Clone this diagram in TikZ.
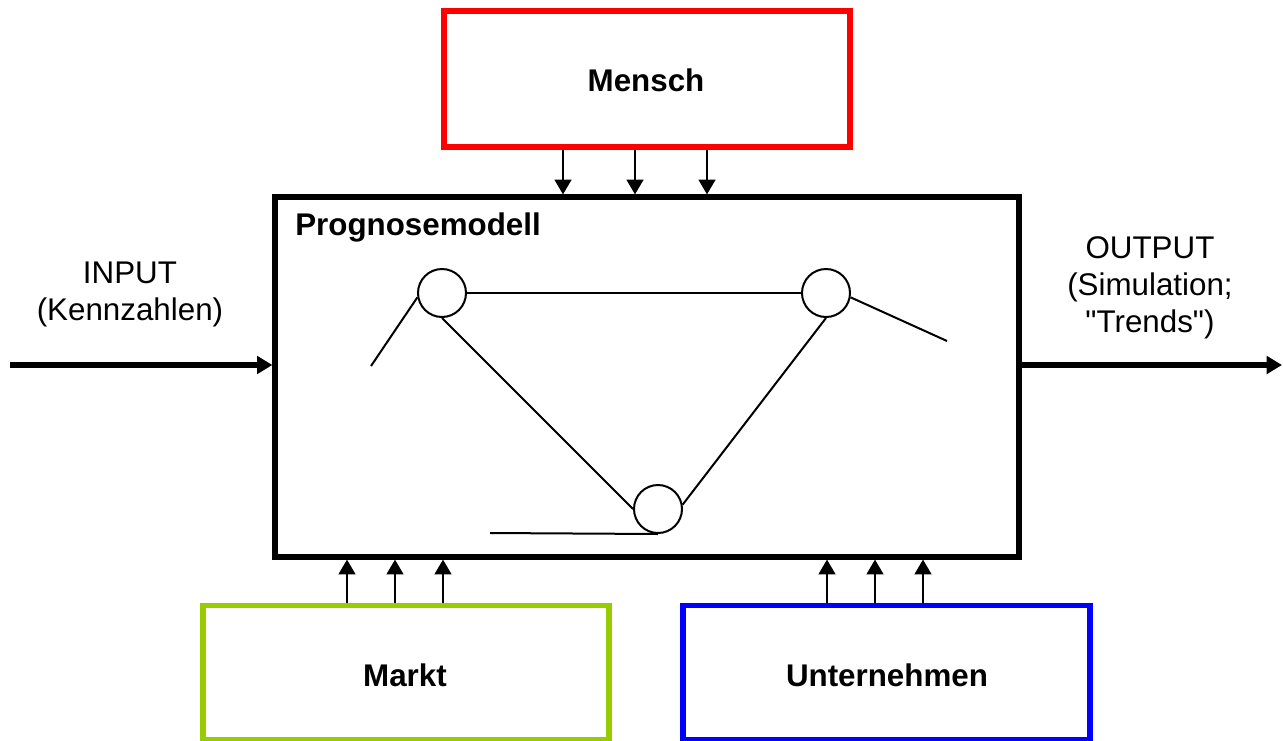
\documentclass[tikz,border=0pt]{standalone}
\usepackage{fontspec}
\setmainfont{Liberation Sans}[Ligatures=TeXOff]
\usetikzlibrary{arrows.meta}
\definecolor{mred}{RGB}{255,0,0}
\definecolor{mgreen}{RGB}{153,204,0}
\definecolor{mblue}{RGB}{0,0,255}
\begin{document}
\begin{tikzpicture}[x=0.75pt,y=-0.75pt,
  every node/.style={font=\fontsize{23.5pt}{27.75pt}\selectfont},
  box/.style={draw, line width=3.9pt, rectangle, inner sep=0pt},
  lbl/.style={font=\fontsize{23.5pt}{27.75pt}\selectfont\bfseries},
  knot/.style={draw, circle, line width=1.5pt, inner sep=0pt, minimum size=48*0.75pt},
  net/.style={line width=1.5pt},
  smallarr/.style={line width=1.5pt, -{Triangle[length=11pt,width=12.5pt]}},
  bigarr/.style={line width=3.9pt, -{Triangle[length=11.5pt,width=13pt]}}]
\useasboundingbox (0,0) rectangle (1283,740);
% boxes
\node[box, mred, minimum width=406*0.75pt, minimum height=136*0.75pt] (mensch) at (647,79) {};
\node[box, black, minimum width=744*0.75pt, minimum height=360*0.75pt] (model) at (647,377) {};
\node[box, mgreen, minimum width=406*0.75pt, minimum height=134*0.75pt] (markt) at (406,672.5) {};
\node[box, mblue, minimum width=407*0.75pt, minimum height=134*0.75pt] (unt) at (886.5,672.5) {};
% labels
\node[lbl] (tmensch) at (646,80) {Mensch};
\node[lbl, anchor=west, inner sep=0pt] (tmodel) at (295,227) {Prognosemodell};
\node[lbl] (tmarkt) at (405,675) {Markt};
\node[lbl] (tunt) at (887,675) {Unternehmen};
\node[align=center] (tin) at (130,294) {INPUT\\(Kennzahlen)};
\node[align=center] (tout) at (1150,288) {OUTPUT\\(Simulation;\\"Trends")};
% arrows from Mensch
\coordinate (a1) at (563,0);
\coordinate (a2) at (635,0);
\coordinate (a3) at (707,0);
\foreach \a in {a1,a2,a3}{\draw[smallarr] (mensch.south -| \a) -- (model.north -| \a);}
% arrows from Markt
\coordinate (b1) at (347,0);
\coordinate (b2) at (395,0);
\coordinate (b3) at (443,0);
\foreach \b in {b1,b2,b3}{\draw[smallarr] (markt.north -| \b) -- (model.south -| \b);}
% arrows from Unternehmen
\coordinate (u1) at (827,0);
\coordinate (u2) at (875,0);
\coordinate (u3) at (923,0);
\foreach \u in {u1,u2,u3}{\draw[smallarr] (unt.north -| \u) -- (model.south -| \u);}
% input / output
\coordinate (in) at (10,365);
\coordinate (out) at (1282,365);
\draw[bigarr] (in) -- (in -| model.west);
\draw[bigarr] (out -| model.east) -- (out);
% network
\node[knot] (c1) at (442,293) {};
\node[knot] (c2) at (826,293) {};
\node[knot] (c3) at (658,509) {};
\coordinate (e1) at (371,366);
\coordinate (e2) at (947,341);
\coordinate (e3) at (490,533);
\draw[net] (c1.190) -- (e1);
\draw[net] (c1.east) -- (c2.west);
\draw[net] (c1.south) -- (c3.west);
\draw[net] (c3.10) -- (c2.south);
\draw[net] (c2.350) -- (e2);
\draw[net] (e3) -- (c3.south);
\end{tikzpicture}
\end{document}
